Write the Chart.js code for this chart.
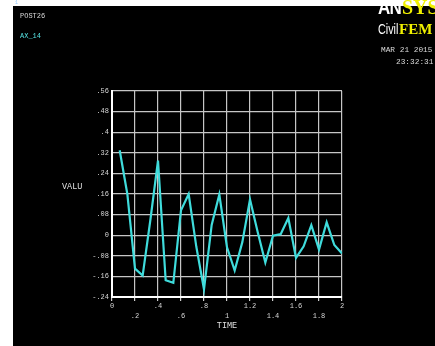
<!DOCTYPE html>
<html><head><meta charset="utf-8">
<script src="https://cdn.jsdelivr.net/npm/chart.js@4"></script>
<style>
html,body{margin:0;padding:0;background:#fff;}
#wrap{position:relative;width:435px;height:346px;overflow:hidden;background:#fff;}
#bg{position:absolute;left:13px;top:6px;right:0;bottom:0;background:#000;}
canvas{position:absolute;left:0;top:0;}
.t{position:absolute;white-space:nowrap;line-height:1;font-family:"Liberation Mono",monospace;}
</style></head><body>
<div id="wrap">
<div id="bg"></div>
<canvas id="c" width="435" height="346"></canvas>
<div class="t" style="left:15px;top:1px;font-size:5px;color:#9cf;">1</div>
<div class="t" style="left:20px;top:13px;font-size:7px;color:#d8d8d8;">POST26</div>
<div class="t" style="left:20px;top:33px;font-size:7px;color:#55e0e0;">AX_14</div>
<div class="t" style="left:378px;top:-3px;font-size:20px;font-weight:bold;"><span style="font-family:'Liberation Sans',sans-serif;color:#fff;display:inline-block;transform:scaleX(0.85);transform-origin:left;letter-spacing:-1px;">AN</span><span style="font-family:'Liberation Serif',serif;color:#f0f000;margin-left:-3px;">SYS</span></div>
<div class="t" style="left:378px;top:21px;font-size:15px;"><span style="font-family:'Liberation Sans',sans-serif;color:#fff;display:inline-block;transform:scaleX(0.72);transform-origin:left;width:21px;">Civil</span><span style="font-family:'Liberation Serif',serif;font-weight:bold;color:#f0f000;">FEM</span></div>
<div class="t" style="left:381px;top:47px;font-size:7.8px;color:#d8d8d8;">MAR 21 2015</div>
<div class="t" style="left:396px;top:59px;font-size:7.8px;color:#d8d8d8;">23:32:31</div>
<div class="t" style="left:62px;top:183px;font-size:8.5px;color:#e0e0e0;">VALU</div>
</div>
<script>
const timeValues = [0.0667, 0.1333, 0.2000, 0.2667, 0.3333, 0.4000, 0.4667, 0.5333, 0.6000, 0.6667,
                    0.7333, 0.8000, 0.8667, 0.9333, 1.0000, 1.0667, 1.1333, 1.2000, 1.2667, 1.3333,
                    1.4000, 1.4667, 1.5333, 1.6000, 1.6667, 1.7333, 1.8000, 1.8667, 1.9333, 2.0000];
const axValues = [0.330, 0.160, -0.130, -0.157, 0.058, 0.290, -0.175, -0.185, 0.097, 0.160,
                  -0.045, -0.210, 0.040, 0.158, -0.047, -0.137, -0.027, 0.139, 0.012, -0.106,
                  -0.002, 0.004, 0.067, -0.088, -0.043, 0.039, -0.056, 0.050, -0.038, -0.071];
const xTickLabels = ['0', '.2', '.4', '.6', '.8', '1', '1.2', '1.4', '1.6', '1.8', '2'];
const yTickLabels = ['-.24', '-.16', '-.08', '0', '.08', '.16', '.24', '.32', '.4', '.48', '.56'];
const xTitle = 'TIME';
const seriesName = 'AX_14';

Chart.defaults.font.family = '"Liberation Mono", monospace';
const points = timeValues.map((t, i) => ({x: t, y: axValues[i]}));

new Chart(document.getElementById('c'), {
  type: 'line',
  data: {
    datasets: [{
      label: seriesName,
      data: points,
      borderColor: '#3fdcdc',
      borderWidth: 2.2,
      pointRadius: 0,
      tension: 0,
      fill: false
    }]
  },
  options: {
    responsive: false,
    animation: false,
    layout: { padding: { left: 60, right: 93, top: 91, bottom: 9 } },
    plugins: { legend: { display: false }, tooltip: { enabled: false } },
    scales: {
      x: {
        type: 'linear',
        min: 0, max: 2,
        afterFit: s => { s.height = 40; },
        grid: { color: '#c6c6c6', lineWidth: 1.2, drawTicks: true, tickLength: 4, tickColor: '#cfcfcf' },
        border: { display: true, color: '#ffffff', width: 2 },
        ticks: {
          stepSize: 0.2, autoSkip: false, maxRotation: 0, padding: 0,
          color: '#d6d6d6', font: { size: 7, lineHeight: '10px' },
          callback: (v, i) => (i % 2 ? ['', xTickLabels[i]] : xTickLabels[i])
        },
        title: { display: true, text: xTitle, color: '#e0e0e0', font: { size: 8.5, lineHeight: '10px' }, padding: { top: 0, bottom: 6 } }
      },
      y: {
        type: 'linear',
        min: -0.24, max: 0.56,
        afterFit: s => { s.width = 52; },
        grid: { color: '#c6c6c6', lineWidth: 1.2, drawTicks: false },
        border: { display: true, color: '#ffffff', width: 2 },
        ticks: {
          stepSize: 0.08, padding: 3, color: '#d6d6d6', font: { size: 7 },
          callback: (v, i) => yTickLabels[i]
        }
      }
    }
  }
});
</script>
</body></html>
